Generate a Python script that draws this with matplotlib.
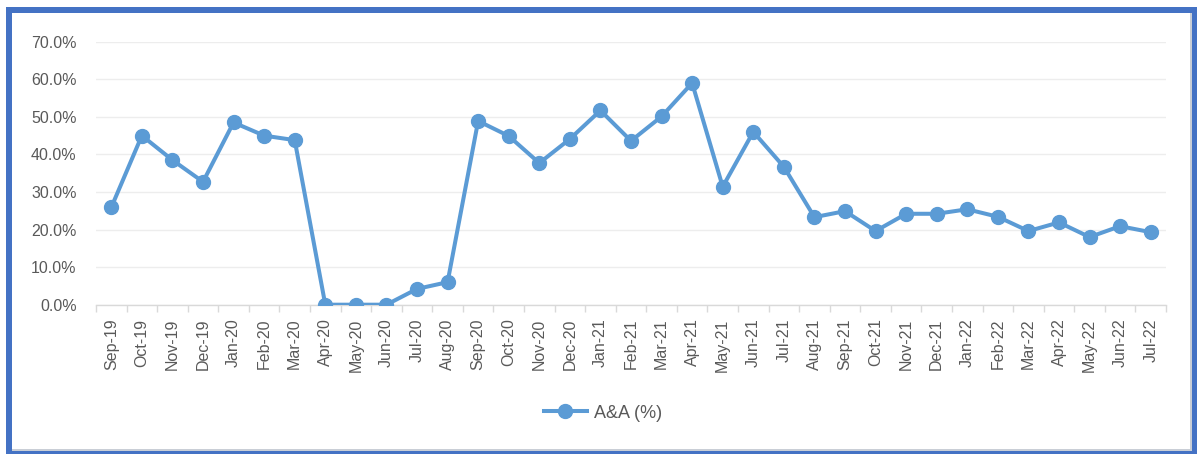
import matplotlib
matplotlib.use("Agg")
import matplotlib.pyplot as plt
from matplotlib.patches import Rectangle
from matplotlib.ticker import FuncFormatter, FixedLocator
import numpy as np

plt.rcParams['font.family'] = ['Liberation Sans', 'DejaVu Sans']

months = ["Sep-19", "Oct-19", "Nov-19", "Dec-19", "Jan-20", "Feb-20", "Mar-20",
          "Apr-20", "May-20", "Jun-20", "Jul-20", "Aug-20", "Sep-20", "Oct-20",
          "Nov-20", "Dec-20", "Jan-21", "Feb-21", "Mar-21", "Apr-21", "May-21",
          "Jun-21", "Jul-21", "Aug-21", "Sep-21", "Oct-21", "Nov-21", "Dec-21",
          "Jan-22", "Feb-22", "Mar-22", "Apr-22", "May-22", "Jun-22", "Jul-22"]
aa_pct = [25.9, 45.0, 38.5, 32.7, 48.5, 45.0, 43.8,
          0.0, 0.0, 0.0, 4.2, 6.0, 48.9, 44.9,
          37.7, 44.1, 51.7, 43.6, 50.1, 59.0, 31.4,
          46.0, 36.7, 23.3, 24.9, 19.6, 24.2, 24.2,
          25.4, 23.4, 19.6, 21.9, 18.0, 20.9, 19.3]
series_name = "A&A (%)"
y_ticks = [0, 10, 20, 30, 40, 50, 60, 70]

W, H = 1197, 454
fig = plt.figure(figsize=(W / 100, H / 100), dpi=100)
fig.patch.set_facecolor("white")


def px_rect(x0, y0, x1, y1, color, z=10):
    # pixel coords with y measured from the top
    fig.patches.append(Rectangle((x0 / W, (H - y1) / H), (x1 - x0) / W, (y1 - y0) / H,
                                 transform=fig.transFigure, facecolor=color,
                                 edgecolor="none", zorder=z))


blue = "#4472C4"
# thin light-grey inner frame
px_rect(1189.5, 13, 1191.5, 451, "#C9CED6")
px_rect(12, 448.5, 1192, 450.5, "#C9CED6")
# outer blue frame
px_rect(6, 7, 12, 454, blue)
px_rect(6, 7, 1197, 13, blue)
px_rect(1192, 7, 1197, 454, blue)
px_rect(6, 451, 1197, 454, blue)

ax = fig.add_axes([96 / W, (H - 304.7) / H, (1166 - 96) / W, (304.7 - 41.7) / H])
x = np.arange(len(months))
line_color = "#5B9BD5"
ax.plot(x, [v / 100 for v in aa_pct], color=line_color, linewidth=2.9,
        marker="o", markersize=10, label=series_name, zorder=3,
        solid_joinstyle="round")

ax.set_xlim(-0.5, len(months) - 0.5)
ax.set_ylim(0, 0.7)
ax.set_yticks([v / 100 for v in y_ticks])
ax.yaxis.set_major_formatter(FuncFormatter(lambda v, p: f"{v * 100:.1f}%"))
ax.grid(axis="y", color="#EDEDED", linewidth=1.0, zorder=0)
ax.set_axisbelow(True)

ax.set_xticks(x)
ax.set_xticklabels(months, rotation=90, va="top", ha="center")
ax.xaxis.set_minor_locator(FixedLocator(np.arange(-0.5, len(months), 1.0)))
ax.tick_params(axis="x", which="major", length=0, pad=10, labelsize=11.5, labelcolor="#595959")
ax.tick_params(axis="x", which="minor", length=5, color="#D9D9D9", width=1)
ax.tick_params(axis="y", length=0, pad=14, labelsize=11.5, labelcolor="#595959")

for s in ["top", "right", "left"]:
    ax.spines[s].set_visible(False)
ax.spines["bottom"].set_color("#D9D9D9")
ax.spines["bottom"].set_linewidth(1)

fig.legend(loc="center", bbox_to_anchor=(603 / W, (H - 413) / H), frameon=False,
           fontsize=13, labelcolor="#595959", handlelength=2.4, handletextpad=0.4)

fig.savefig("out.png", dpi=100, facecolor="white")
